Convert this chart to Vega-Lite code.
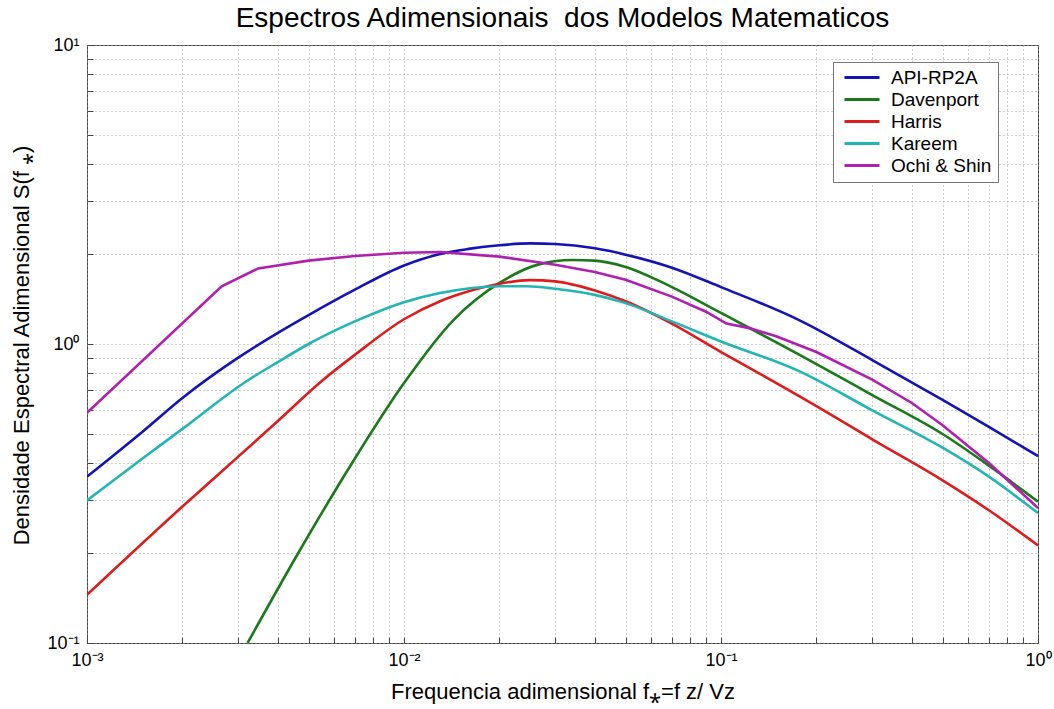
{
  "$schema": "https://vega.github.io/schema/vega-lite/v6.json",
  "width": 951,
  "height": 598,
  "autosize": {"type": "none"},
  "padding": {"left": 87, "top": 45, "right": 16, "bottom": 66},
  "background": "white",
  "title": {
    "text": "Espectros Adimensionais\u00a0 dos Modelos Matematicos",
    "font": "Liberation Sans",
    "fontSize": 28,
    "fontWeight": "normal",
    "color": "black",
    "anchor": "middle",
    "offset": 3
  },
  "data": {
    "values": [
      {"model": "API-RP2A", "f": 0.001, "S": 0.36},
      {"model": "API-RP2A", "f": 0.0015, "S": 0.51},
      {"model": "API-RP2A", "f": 0.002, "S": 0.66},
      {"model": "API-RP2A", "f": 0.003, "S": 0.9},
      {"model": "API-RP2A", "f": 0.004, "S": 1.09},
      {"model": "API-RP2A", "f": 0.005, "S": 1.25},
      {"model": "API-RP2A", "f": 0.007, "S": 1.52},
      {"model": "API-RP2A", "f": 0.01, "S": 1.83},
      {"model": "API-RP2A", "f": 0.013, "S": 2.0},
      {"model": "API-RP2A", "f": 0.016, "S": 2.08},
      {"model": "API-RP2A", "f": 0.02, "S": 2.14},
      {"model": "API-RP2A", "f": 0.025, "S": 2.17},
      {"model": "API-RP2A", "f": 0.03, "S": 2.16},
      {"model": "API-RP2A", "f": 0.04, "S": 2.09},
      {"model": "API-RP2A", "f": 0.05, "S": 1.99},
      {"model": "API-RP2A", "f": 0.07, "S": 1.8},
      {"model": "API-RP2A", "f": 0.1, "S": 1.55},
      {"model": "API-RP2A", "f": 0.177, "S": 1.2},
      {"model": "API-RP2A", "f": 0.3, "S": 0.884},
      {"model": "API-RP2A", "f": 0.5, "S": 0.65},
      {"model": "API-RP2A", "f": 0.7, "S": 0.528},
      {"model": "API-RP2A", "f": 1.0, "S": 0.422},

      {"model": "Davenport", "f": 0.00321, "S": 0.1},
      {"model": "Davenport", "f": 0.00464, "S": 0.2},
      {"model": "Davenport", "f": 0.00686, "S": 0.4},
      {"model": "Davenport", "f": 0.01, "S": 0.74},
      {"model": "Davenport", "f": 0.0143, "S": 1.2},
      {"model": "Davenport", "f": 0.02, "S": 1.6},
      {"model": "Davenport", "f": 0.0268, "S": 1.85},
      {"model": "Davenport", "f": 0.034, "S": 1.91},
      {"model": "Davenport", "f": 0.04, "S": 1.9},
      {"model": "Davenport", "f": 0.05, "S": 1.81},
      {"model": "Davenport", "f": 0.07, "S": 1.55},
      {"model": "Davenport", "f": 0.1, "S": 1.27},
      {"model": "Davenport", "f": 0.177, "S": 0.92},
      {"model": "Davenport", "f": 0.3, "S": 0.675},
      {"model": "Davenport", "f": 0.5, "S": 0.5},
      {"model": "Davenport", "f": 0.7, "S": 0.392},
      {"model": "Davenport", "f": 1.0, "S": 0.297},

      {"model": "Harris", "f": 0.001, "S": 0.145},
      {"model": "Harris", "f": 0.002, "S": 0.286},
      {"model": "Harris", "f": 0.003, "S": 0.42},
      {"model": "Harris", "f": 0.004, "S": 0.553},
      {"model": "Harris", "f": 0.00555, "S": 0.758},
      {"model": "Harris", "f": 0.007, "S": 0.92},
      {"model": "Harris", "f": 0.01, "S": 1.21},
      {"model": "Harris", "f": 0.013, "S": 1.39},
      {"model": "Harris", "f": 0.016, "S": 1.5},
      {"model": "Harris", "f": 0.02, "S": 1.59},
      {"model": "Harris", "f": 0.025, "S": 1.635},
      {"model": "Harris", "f": 0.03, "S": 1.62},
      {"model": "Harris", "f": 0.04, "S": 1.51},
      {"model": "Harris", "f": 0.05, "S": 1.39},
      {"model": "Harris", "f": 0.07, "S": 1.17},
      {"model": "Harris", "f": 0.1, "S": 0.94},
      {"model": "Harris", "f": 0.126, "S": 0.82},
      {"model": "Harris", "f": 0.2, "S": 0.62},
      {"model": "Harris", "f": 0.3, "S": 0.48},
      {"model": "Harris", "f": 0.5, "S": 0.35},
      {"model": "Harris", "f": 0.7, "S": 0.278},
      {"model": "Harris", "f": 1.0, "S": 0.212},

      {"model": "Kareem", "f": 0.001, "S": 0.3},
      {"model": "Kareem", "f": 0.0015, "S": 0.415},
      {"model": "Kareem", "f": 0.002, "S": 0.52},
      {"model": "Kareem", "f": 0.00315, "S": 0.745},
      {"model": "Kareem", "f": 0.004, "S": 0.87},
      {"model": "Kareem", "f": 0.005, "S": 1.0},
      {"model": "Kareem", "f": 0.007, "S": 1.19},
      {"model": "Kareem", "f": 0.01, "S": 1.38},
      {"model": "Kareem", "f": 0.013, "S": 1.48},
      {"model": "Kareem", "f": 0.02, "S": 1.56},
      {"model": "Kareem", "f": 0.0244, "S": 1.56},
      {"model": "Kareem", "f": 0.03, "S": 1.53},
      {"model": "Kareem", "f": 0.04, "S": 1.46},
      {"model": "Kareem", "f": 0.05, "S": 1.37},
      {"model": "Kareem", "f": 0.07, "S": 1.19},
      {"model": "Kareem", "f": 0.1, "S": 1.02},
      {"model": "Kareem", "f": 0.177, "S": 0.81},
      {"model": "Kareem", "f": 0.3, "S": 0.6},
      {"model": "Kareem", "f": 0.5, "S": 0.45},
      {"model": "Kareem", "f": 0.7, "S": 0.36},
      {"model": "Kareem", "f": 1.0, "S": 0.272},

      {"model": "Ochi & Shin", "f": 0.001, "S": 0.589},
      {"model": "Ochi & Shin", "f": 0.00266, "S": 1.56},
      {"model": "Ochi & Shin", "f": 0.00347, "S": 1.79},
      {"model": "Ochi & Shin", "f": 0.005, "S": 1.9},
      {"model": "Ochi & Shin", "f": 0.007, "S": 1.97},
      {"model": "Ochi & Shin", "f": 0.01, "S": 2.02},
      {"model": "Ochi & Shin", "f": 0.013, "S": 2.03},
      {"model": "Ochi & Shin", "f": 0.02, "S": 1.96},
      {"model": "Ochi & Shin", "f": 0.03, "S": 1.84},
      {"model": "Ochi & Shin", "f": 0.04, "S": 1.74},
      {"model": "Ochi & Shin", "f": 0.05, "S": 1.64},
      {"model": "Ochi & Shin", "f": 0.07, "S": 1.44},
      {"model": "Ochi & Shin", "f": 0.09, "S": 1.28},
      {"model": "Ochi & Shin", "f": 0.104, "S": 1.17},
      {"model": "Ochi & Shin", "f": 0.123, "S": 1.13},
      {"model": "Ochi & Shin", "f": 0.15, "S": 1.06},
      {"model": "Ochi & Shin", "f": 0.2, "S": 0.94},
      {"model": "Ochi & Shin", "f": 0.3, "S": 0.76},
      {"model": "Ochi & Shin", "f": 0.4, "S": 0.635},
      {"model": "Ochi & Shin", "f": 0.5, "S": 0.535},
      {"model": "Ochi & Shin", "f": 0.7, "S": 0.4},
      {"model": "Ochi & Shin", "f": 1.0, "S": 0.283}
    ]
  },
  "encoding": {
    "x": {
      "field": "f",
      "type": "quantitative",
      "scale": {"type": "log", "domain": [0.001, 1], "nice": false},
      "axis": {
        "title": "Frequencia adimensional f⁎=f z/ Vz",
        "values": [0.001, 0.002, 0.003, 0.004, 0.005, 0.006, 0.007, 0.008, 0.009, 0.01, 0.02, 0.03, 0.04, 0.05, 0.06, 0.07, 0.08, 0.09, 0.1, 0.2, 0.3, 0.4, 0.5, 0.6, 0.7, 0.8, 0.9, 1],
        "labelExpr": "datum.value == 0.001 ? '10⁻³' : datum.value == 0.01 ? '10⁻²' : datum.value == 0.1 ? '10⁻¹' : datum.value == 1 ? '10⁰' : ''",
        "labelFlush": false,
        "labelOverlap": false,
        "labelFont": "Liberation Sans",
        "labelFontSize": 18,
        "labelColor": "black",
        "labelPadding": 14,
        "grid": true,
        "gridColor": "#9a9a9a",
        "gridDash": [1, 3],
        "gridWidth": 1,
        "domain": false,
        "ticks": true,
        "tickSize": -6,
        "tickColor": "#444444",
        "titleFont": "Liberation Sans",
        "titleFontSize": 22,
        "titleFontWeight": "normal",
        "titleColor": "black",
        "titleY": 55,
        "titleBaseline": "alphabetic"
      }
    },
    "y": {
      "field": "S",
      "type": "quantitative",
      "scale": {"type": "log", "domain": [0.1, 10], "nice": false},
      "axis": {
        "title": "Densidade Espectral Adimensional S(f ⁎)",
        "values": [0.1, 0.2, 0.3, 0.4, 0.5, 0.6, 0.7, 0.8, 0.9, 1, 2, 3, 4, 5, 6, 7, 8, 9, 10],
        "labelExpr": "datum.value == 0.1 ? '10⁻¹' : datum.value == 1 ? '10⁰' : datum.value == 10 ? '10¹' : ''",
        "labelFlush": false,
        "labelOverlap": false,
        "labelFont": "Liberation Sans",
        "labelFontSize": 18,
        "labelColor": "black",
        "labelPadding": 14,
        "grid": true,
        "gridColor": "#9a9a9a",
        "gridDash": [1, 3],
        "gridWidth": 1,
        "domain": false,
        "ticks": true,
        "tickSize": -6,
        "tickColor": "#444444",
        "titleFont": "Liberation Sans",
        "titleFontSize": 22,
        "titleFontWeight": "normal",
        "titleColor": "black",
        "titleX": -66,
        "titleY": 300,
        "titleAngle": -90,
        "titleBaseline": "middle"
      }
    },
    "color": {
      "field": "model",
      "type": "nominal",
      "scale": {
        "domain": ["API-RP2A", "Davenport", "Harris", "Kareem", "Ochi & Shin"],
        "range": ["#1414b4", "#1a7a1a", "#dd1c1c", "#22b5b5", "#b020b0"]
      },
      "legend": {
        "title": null,
        "orient": "none",
        "legendX": 746,
        "legendY": 17,
        "symbolType": "stroke",
        "symbolSize": 1225,
        "symbolStrokeWidth": 3,
        "symbolOffset": 4,
        "clipHeight": 19,
        "rowPadding": 2,
        "labelFont": "Liberation Sans",
        "labelFontSize": 19,
        "labelColor": "black",
        "labelOffset": 10,
        "padding": 6,
        "fillColor": "white",
        "strokeColor": "#777777"
      }
    }
  },
  "layer": [
    {
      "transform": [{"filter": "datum.model != 'Ochi & Shin'"}],
      "mark": {"type": "line", "strokeWidth": 2.6, "clip": true, "interpolate": "monotone"}
    },
    {
      "transform": [{"filter": "datum.model == 'Ochi & Shin'"}],
      "mark": {"type": "line", "strokeWidth": 2.6, "clip": true, "interpolate": "linear"}
    }
  ],
  "config": {
    "view": {"stroke": "#444444", "strokeWidth": 1}
  }
}
